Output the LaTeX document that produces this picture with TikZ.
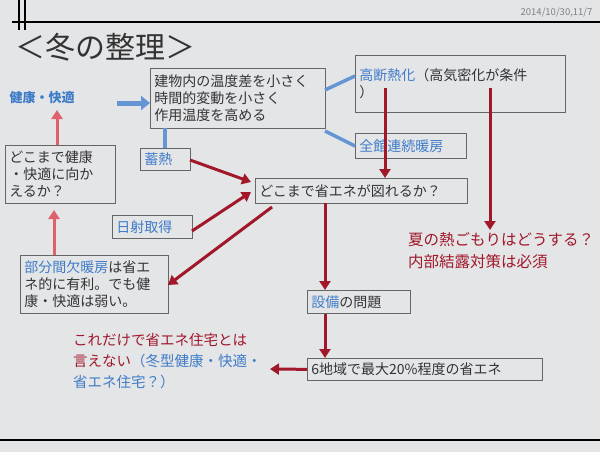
\documentclass[tikz,border=0pt]{standalone}
\usepackage{fontspec}
\setmainfont{Noto Sans CJK JP}
\usetikzlibrary{arrows.meta}
\definecolor{bg}{HTML}{E4E5E7}
\definecolor{jblue}{HTML}{3F7CC8}
\definecolor{jred}{HTML}{A0182A}
\definecolor{jpink}{HTML}{E0616B}
\definecolor{txt}{HTML}{333333}
\tikzset{
 bx/.style={draw=gray!80!black,line width=0.7pt,fill=bg,text=txt,font=\fontsize{14}{17}\selectfont,align=left,inner xsep=4pt,inner ysep=3pt,anchor=north west},
 rarr/.style={draw=jred,line width=3pt,-{Triangle[length=9pt,width=11pt]}},
 parr/.style={draw=jpink,line width=3pt,-{Triangle[length=9pt,width=11pt]}},
 bline/.style={draw=jblue!80,line width=3.5pt},
}
\begin{document}
\begin{tikzpicture}[x=1pt,y=-1pt]
\fill[bg] (0,0) rectangle (600,452);
\useasboundingbox (0,0) rectangle (600,452);
\draw[line width=2.5pt] (12,22) -- (600,22);
\draw[line width=1.5pt] (19,0) -- (19,30) (25,0) -- (25,30);
\draw[line width=2.5pt] (0,440) -- (600,440);
\node[anchor=east,text=gray,font=\fontsize{9.5}{10}\selectfont] (date) at (596,13) {2014/10/30,11/7};
\node[anchor=west,font=\fontsize{30}{34}\selectfont,text=txt] (title) at (12,47) {＜冬の整理＞};

\node[bx,text width=167pt,minimum height=60pt] (A) at (150,68) {建物内の温度差を小さく\\時間的変動を小さく\\作用温度を高める};
\node[bx,text width=202pt,minimum height=57pt] (B) at (355,55) {\textcolor{jblue}{高断熱化}（高気密化が条件\\）};
\node[bx,text width=103pt,minimum height=25pt,text=jblue] (C) at (355,133) {全館連続暖房};
\node[bx,text width=42pt,minimum height=22pt,text=jblue] (D) at (140,148) {蓄熱};
\node[bx,text width=204pt,minimum height=25pt] (E) at (255,178) {どこまで省エネが図れるか？};
\node[bx,text width=72pt,minimum height=23pt,text=jblue] (F) at (112,215) {日射取得};
\node[bx,text width=102pt,minimum height=58pt] (G) at (5,145) {どこまで健康\\・快適に向か\\えるか？};
\node[bx,text width=140pt,minimum height=58pt] (H) at (20,255) {\textcolor{jblue}{部分間欠暖房}は省エ\\ネ的に有利。でも健\\康・快適は弱い。};
\node[bx,text width=95pt,minimum height=23pt] (I) at (307,290) {\textcolor{jblue}{設備}の問題};
\node[bx,text width=227pt,minimum height=22pt] (J) at (307,358) {6地域で最大20\%程度の省エネ};

\node[anchor=west,text=jblue,font=\bfseries\fontsize{13}{14}\selectfont] (K) at (6,98) {健康・快適};
\node[anchor=north west,align=left,font=\fontsize{14.5}{21}\selectfont,inner sep=0pt] (L) at (73,333) {\textcolor{jred}{これだけで省エネ住宅とは}\\\textcolor{jred}{言えない}\textcolor{jblue}{（冬型健康・快適・}\\\textcolor{jblue}{省エネ住宅？）}};
\node[anchor=north west,align=left,text=jred,font=\fontsize{15.5}{22}\selectfont,inner sep=0pt] (M) at (408,232) {夏の熱ごもりはどうする？\\内部結露対策は必須};

\coordinate (k1) at (117,103);
\coordinate (a1) at (325,90);
\coordinate (a2) at (325,131);
\coordinate (b0) at (355,76);
\coordinate (c0) at (355,146);
\coordinate (d0) at (165,128);
\coordinate (b1) at (385,88);
\coordinate (b2) at (490,88);
\coordinate (b3) at (490,230);
\coordinate (d1) at (190,160);
\coordinate (e0) at (251,182);
\coordinate (f1) at (192,231);
\coordinate (e2) at (251,192);
\coordinate (e3) at (272,207);
\coordinate (h1) at (168,285);
\coordinate (e1) at (325,203);
\coordinate (l1) at (270,369);
\coordinate (g1) at (57,110);
\coordinate (g2) at (54,210);

\draw[draw=jblue!80,line width=5pt,-{Triangle[length=9pt,width=14pt]}] (k1) -- (k1-|A.west);
\draw[bline] (a1) -- (b0);
\draw[bline] (a2) -- (c0);
\draw[bline] (d0) -- (d0|-D.north);
\draw[rarr] (b1) -- (b1|-E.north);
\draw[rarr] (b2) -- (b3);
\draw[rarr] (d1) -- (e0);
\draw[rarr] (f1) -- (e2);
\draw[rarr] (e3) -- (h1);
\draw[rarr] (e1) -- (e1|-I.north);
\draw[rarr] (e1|-I.south) -- (e1|-J.north);
\draw[rarr] (J.west) -- (l1);
\draw[parr] (g1|-G.north) -- (g1);
\draw[parr] (g2|-H.north) -- (g2);
\end{tikzpicture}
\end{document}
